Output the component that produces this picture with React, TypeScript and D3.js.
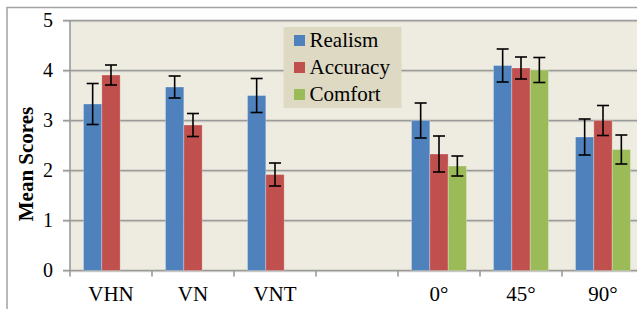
import React from "react";
import * as d3 from "d3";

// categories on the x axis (the blank one is the gap between the two groups)
const categories = ["VHN", "VN", "VNT", "", "0°", "45°", "90°"];
const seriesNames = ["Realism", "Accuracy", "Comfort"];
const seriesColors = ["#4F81BD", "#C0504D", "#9BBB59"];

// mean scores
const realism = [3.33, 3.67, 3.5, null, 3.0, 4.1, 2.67];
const accuracy = [3.91, 2.91, 1.92, null, 2.33, 4.05, 3.0];
const comfort = [null, null, null, null, 2.09, 4.01, 2.42];

// error bar half-widths
const realismErr = [0.41, 0.22, 0.34, null, 0.35, 0.33, 0.36];
const accuracyErr = [0.2, 0.23, 0.23, null, 0.36, 0.22, 0.3];
const comfortErr = [null, null, null, null, 0.2, 0.25, 0.29];

const yTicks = [0, 1, 2, 3, 4, 5];

const W = 637;
const H = 309;
const serif = "'Liberation Serif', 'Times New Roman', serif";

export default function App() {
  const margin = { left: 70, top: 20.5, bottom: 270.5, right: 644 };

  const x = d3.scaleBand<string>().domain(categories).range([margin.left, margin.right]);
  const xInner = d3
    .scaleBand<string>()
    .domain(seriesNames)
    .range([0, x.bandwidth()])
    .paddingInner(0)
    .paddingOuter(0.735);
  const y = d3.scaleLinear().domain([0, 5]).range([margin.bottom, margin.top]);

  const values = [realism, accuracy, comfort];
  const errs = [realismErr, accuracyErr, comfortErr];

  const bars: { key: string; x: number; y: number; h: number; color: string; lo: number; hi: number; cx: number }[] = [];
  categories.forEach((c, i) => {
    seriesNames.forEach((s, j) => {
      const v = values[j][i];
      const e = errs[j][i];
      if (v == null) return;
      const bx = (x(c) ?? 0) + (xInner(s) ?? 0);
      bars.push({
        key: `${i}-${s}`,
        x: bx,
        y: y(v),
        h: y(0) - y(v),
        color: seriesColors[j],
        lo: y(v - (e ?? 0)),
        hi: y(v + (e ?? 0)),
        cx: bx + xInner.bandwidth() / 2,
      });
    });
  });

  const boundaries = categories.map((c) => (x(c) ?? 0) + x.bandwidth());

  return (
    <svg
      width={W}
      height={H}
      style={{ position: "absolute", left: 0, top: 0, background: "#fff" }}
    >
      {/* outer chart border */}
      <rect x={7} y={7.5} width={700} height={400} fill="none" stroke="#a3a3a3" strokeWidth={1.5} />

      {/* plot background */}
      <rect
        x={margin.left}
        y={margin.top}
        width={margin.right - margin.left}
        height={margin.bottom - margin.top}
        fill="#EEECE1"
      />

      {/* gridlines + left ticks */}
      {yTicks.map((t) => (
        <g key={t}>
          <line x1={63} x2={margin.right} y1={y(t) + 1.2} y2={y(t) + 1.2} stroke="#cfcdc4" strokeWidth={1} />
          <line x1={63} x2={margin.right} y1={y(t)} y2={y(t)} stroke="#9a9a9a" strokeWidth={1.6} />
          <text
            x={53}
            y={y(t)}
            dy="0.34em"
            textAnchor="end"
            fontFamily={serif}
            fontSize={20}
            fill="#000"
          >
            {t}
          </text>
        </g>
      ))}

      {/* y axis line */}
      <line x1={margin.left} x2={margin.left} y1={margin.top} y2={margin.bottom + 6} stroke="#9a9a9a" strokeWidth={1.6} />

      {/* x axis ticks */}
      {boundaries.map((b, i) => (
        <line key={i} x1={b} x2={b} y1={margin.bottom} y2={margin.bottom + 6} stroke="#9a9a9a" strokeWidth={1.6} />
      ))}

      {/* bars */}
      {bars.map((b) => (
        <rect
          key={b.key}
          x={b.x}
          y={b.y}
          width={xInner.bandwidth()}
          height={b.h}
          fill={b.color}
          stroke="rgba(255,255,255,0.35)"
          strokeWidth={0.8}
        />
      ))}

      {/* error bars */}
      {bars.map((b) => (
        <g key={"e" + b.key} stroke="#000" strokeWidth={1.6}>
          <line x1={b.cx} x2={b.cx} y1={b.lo} y2={b.hi} />
          <line x1={b.cx - 6} x2={b.cx + 6} y1={b.lo} y2={b.lo} />
          <line x1={b.cx - 6} x2={b.cx + 6} y1={b.hi} y2={b.hi} />
        </g>
      ))}

      {/* x labels */}
      {categories.map((c) => (
        <text
          key={"l" + c}
          x={(x(c) ?? 0) + x.bandwidth() / 2}
          y={301}
          textAnchor="middle"
          fontFamily={serif}
          fontSize={21}
          fill="#000"
        >
          {c}
        </text>
      ))}

      {/* y title */}
      <text
        transform="translate(33,164) rotate(-90)"
        textAnchor="middle"
        fontFamily={serif}
        fontSize={21}
        fontWeight="bold"
        fill="#000"
      >
        Mean Scores
      </text>

      {/* legend */}
      <g transform="translate(283.5,27)">
        <rect x={0} y={0} width={118} height={81} fill="#DDD9C3" />
        {seriesNames.map((s, i) => (
          <g key={s} transform={`translate(0,${8 + i * 27})`}>
            <rect x={10.5} y={0} width={11} height={11} fill={seriesColors[i]} />
            <text x={26} y={11.7} fontFamily={serif} fontSize={21} fill="#000">
              {s}
            </text>
          </g>
        ))}
      </g>
    </svg>
  );
}
